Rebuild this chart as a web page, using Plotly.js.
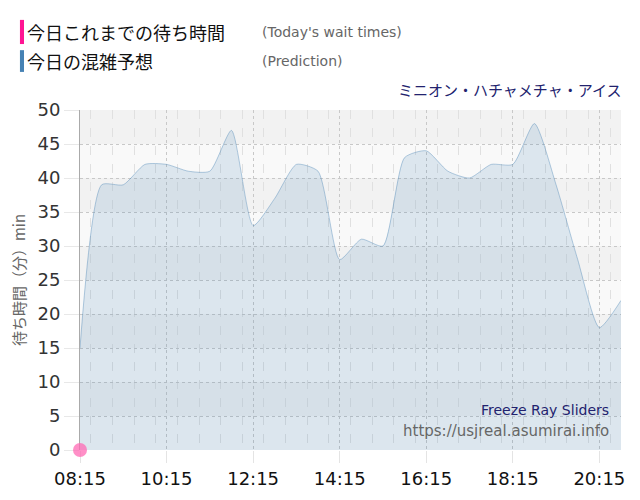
<!DOCTYPE html>
<html>
<head>
<meta charset="utf-8">
<script src="https://cdn.plot.ly/plotly-3.0.1.min.js"></script>
<style>
  html, body { margin: 0; padding: 0; background: #fff; }
  #chart { width: 640px; height: 500px; }
</style>
</head>
<body>
<div id="chart"></div>
<script>
// prediction, every 30 minutes
const predTimes = ['08:15','08:45','09:15','09:45','10:15','10:45','11:15','11:45','12:15','12:45',
  '13:15','13:45','14:15','14:45','15:15','15:45','16:15','16:45','17:15','17:45',
  '18:15','18:45','19:15','19:45','20:15','20:45'];
const predWait = [15, 39, 39, 42, 42, 41, 41, 47, 33, 37,
  42, 41, 28, 31, 30, 43, 44, 41, 40, 42,
  42, 48, 39, 28, 18, 22];

// today's actual wait times
const actualTimes = ['08:15'];
const actualWait = [0];

const yTicks = [0, 5, 10, 15, 20, 25, 30, 35, 40, 45, 50];
const day = '2024-01-01 ';
const toDate = t => day + t + ':00';

const steel = '#4682b4';
const pink = '#ff1493';
const navy = '#22226e';

const data = [
  {
    x: predTimes.map(toDate),
    y: predWait,
    type: 'scatter',
    mode: 'lines',
    name: '今日の混雑予想',
    line: { color: 'rgba(70,130,180,0.4)', width: 1, shape: 'spline', smoothing: 0.6 },
    fill: 'tozeroy',
    fillcolor: 'rgba(70,130,180,0.16)',
    hoverinfo: 'x+y'
  },
  {
    x: actualTimes.map(toDate),
    y: actualWait,
    type: 'scatter',
    mode: 'markers',
    name: '今日これまでの待ち時間',
    marker: { color: 'rgba(255,105,180,0.75)', size: 14, line: { width: 0 } },
    cliponaxis: false
  }
];

// alternating bands behind the grid
const shapes = [];
for (let i = 0; i < yTicks.length - 1; i++) {
  shapes.push({
    type: 'rect', xref: 'paper', yref: 'y', layer: 'below',
    x0: 0, x1: 1, y0: yTicks[i], y1: yTicks[i + 1],
    fillcolor: (i % 2 === 1) ? '#f2f2f2' : '#f9f9f9',
    line: { width: 0 }
  });
}
// legend colour bars
shapes.push({ type: 'rect', xref: 'paper', yref: 'paper', x0: -0.111, x1: -0.1035, y0: 1.194, y1: 1.265,
  fillcolor: pink, line: { width: 0 } });
shapes.push({ type: 'rect', xref: 'paper', yref: 'paper', x0: -0.111, x1: -0.1035, y0: 1.112, y1: 1.176,
  fillcolor: steel, line: { width: 0 } });

const jp = '"Noto Sans CJK JP", "Noto Sans", sans-serif';

const annotations = [
  { text: '今日これまでの待ち時間', xref: 'paper', yref: 'paper', x: -0.101, y: 1.229,
    xanchor: 'left', yanchor: 'middle', showarrow: false, font: { family: jp, size: 18, color: '#111' } },
  { text: "(Today's wait times)", xref: 'paper', yref: 'paper', x: 0.332, y: 1.229,
    xanchor: 'left', yanchor: 'middle', showarrow: false, font: { family: 'DejaVu Sans, sans-serif', size: 14, color: '#666' } },
  { text: '今日の混雑予想', xref: 'paper', yref: 'paper', x: -0.101, y: 1.144,
    xanchor: 'left', yanchor: 'middle', showarrow: false, font: { family: jp, size: 18, color: '#111' } },
  { text: '(Prediction)', xref: 'paper', yref: 'paper', x: 0.332, y: 1.144,
    xanchor: 'left', yanchor: 'middle', showarrow: false, font: { family: 'DejaVu Sans, sans-serif', size: 14, color: '#666' } },
  { text: 'ミニオン・ハチャメチャ・アイス', xref: 'paper', yref: 'paper', x: 1.005, y: 1.059,
    xanchor: 'right', yanchor: 'middle', showarrow: false, font: { family: jp, size: 15, color: navy } },
  { text: 'Freeze Ray Sliders', xref: 'paper', yref: 'paper', x: 0.982, y: 0.118,
    xanchor: 'right', yanchor: 'middle', showarrow: false, font: { family: 'DejaVu Sans, sans-serif', size: 14, color: navy } },
  { text: 'https://usjreal.asumirai.info', xref: 'paper', yref: 'paper', x: 0.982, y: 0.056,
    xanchor: 'right', yanchor: 'middle', showarrow: false, font: { family: 'DejaVu Sans, sans-serif', size: 15, color: '#666' } }
];

const layout = {
  width: 640,
  height: 500,
  paper_bgcolor: '#fff',
  plot_bgcolor: '#fff',
  showlegend: false,
  margin: { l: 80, r: 19, t: 110, b: 50 },
  font: { family: 'DejaVu Sans, sans-serif', color: '#333' },
  xaxis: {
    type: 'date',
    range: [toDate('08:15'), toDate('20:45')],
    tick0: toDate('08:15'),
    dtick: 2 * 60 * 60 * 1000,
    tickformat: '%H:%M',
    tickfont: { size: 18, color: '#111' },
    ticks: 'outside',
    ticklen: 12,
    tickcolor: '#e4e4e4',
    showgrid: true,
    gridcolor: '#c8c8c8',
    griddash: 'dot',
    gridwidth: 1,
    minor: { dtick: 30 * 60 * 1000, showgrid: true, gridcolor: '#e0e0e0', griddash: 'dash', gridwidth: 1 },
    zeroline: false,
    showline: false,
    layer: 'below traces',
    fixedrange: true
  },
  yaxis: {
    range: [0, 50],
    tickvals: yTicks,
    tickfont: { size: 18, color: '#333' },
    ticks: 'outside',
    ticklen: 15,
    tickcolor: '#e8e8e8',
    showgrid: true,
    gridcolor: '#c8c8c8',
    griddash: 'dot',
    zeroline: false,
    showline: true,
    linecolor: '#aaa',
    linewidth: 1,
    layer: 'below traces',
    title: { text: '待ち時間（分）min', font: { family: jp, size: 15, color: '#666' }, standoff: 8 },
    fixedrange: true
  },
  shapes: shapes,
  annotations: annotations
};

Plotly.newPlot('chart', data, layout, { displayModeBar: false, staticPlot: true });
</script>
</body>
</html>
